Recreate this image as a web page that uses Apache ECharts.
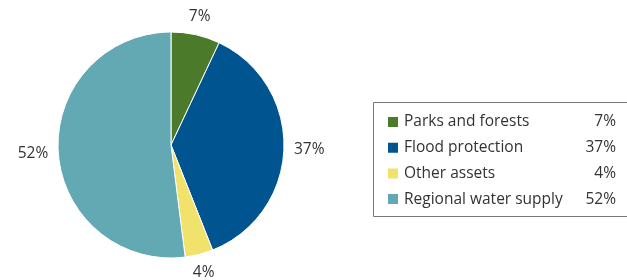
<!DOCTYPE html>
<html>
<head>
<meta charset="utf-8">
<script src="https://cdn.jsdelivr.net/npm/echarts@6/dist/echarts.min.js"></script>
<style>
  html, body { margin: 0; padding: 0; background: #fff; }
  #chart { width: 627px; height: 280px; }
</style>
</head>
<body>
<div id="chart"></div>
<script>
// data
var categories = ['Parks and forests', 'Flood protection', 'Other assets', 'Regional water supply'];
var values = [7, 37, 4, 52];
var colors = ['#4b7a2a', '#005490', '#f1e26c', '#63a9b4'];

var myChart = echarts.init(document.getElementById('chart'));

var pieCenter = [171, 145];

var pieData = categories.map(function (c, i) {
    return { name: c, value: values[i], itemStyle: { color: colors[i] } };
});

var option = {
    animation: false,
    textStyle: { fontFamily: 'Open Sans', color: '#333' },
    graphic: [{
        type: 'rect',
        shape: { x: 373.5, y: 102.5, width: 300, height: 114 },
        style: { fill: 'none', stroke: '#777', lineWidth: 1 }
    }],
    legend: {
        orient: 'vertical',
        left: 381,
        top: 109,
        padding: 5,
        itemWidth: 12,
        itemHeight: 12,
        itemGap: 9.7,
        icon: 'rect',
        selectedMode: false,
        data: categories,
        formatter: function (name) {
            var i = categories.indexOf(name);
            return '{n|' + name + '}{p|' + values[i] + '%}';
        },
        textStyle: {
            color: '#333',
            fontSize: 15.5,
            rich: {
                n: { width: 170, fontSize: 15.5, color: '#333', height: 15 },
                p: { width: 42, align: 'right', fontSize: 15.5, color: '#333', height: 15 }
            }
        }
    },
    series: [{
        type: 'pie',
        center: pieCenter,
        radius: [0, 113],
        startAngle: 90,
        clockwise: true,
        itemStyle: { borderColor: '#fff', borderWidth: 1 },
        label: {
            show: true,
            position: 'outside',
            formatter: '{c}%',
            fontSize: 15.5,
            color: '#333',
            distanceToLabelLine: 5
        },
        labelLine: { show: false, length: 10, length2: 0 },
        // centre each label on the radial line, pushed out so its box clears the pie
        labelLayout: function (p) {
            var r = p.labelRect;
            var cy = r.y + r.height / 2;
            var rightSide = r.x + r.width / 2 > pieCenter[0];
            var ex = rightSide ? r.x - 5 : r.x + r.width + 5;
            var dx = ex - pieCenter[0], dy = cy - pieCenter[1];
            var len = Math.sqrt(dx * dx + dy * dy);
            var ux = dx / len, uy = dy / len;
            var t = Math.min(
                Math.abs(ux) > 1e-6 ? (r.width / 2) / Math.abs(ux) : 1e9,
                Math.abs(uy) > 1e-6 ? (r.height / 2) / Math.abs(uy) : 1e9
            );
            return {
                x: ex + ux * t,
                y: cy + uy * t,
                align: 'center',
                verticalAlign: 'middle'
            };
        },
        data: pieData
    }]
};

myChart.setOption(option);
</script>
</body>
</html>
